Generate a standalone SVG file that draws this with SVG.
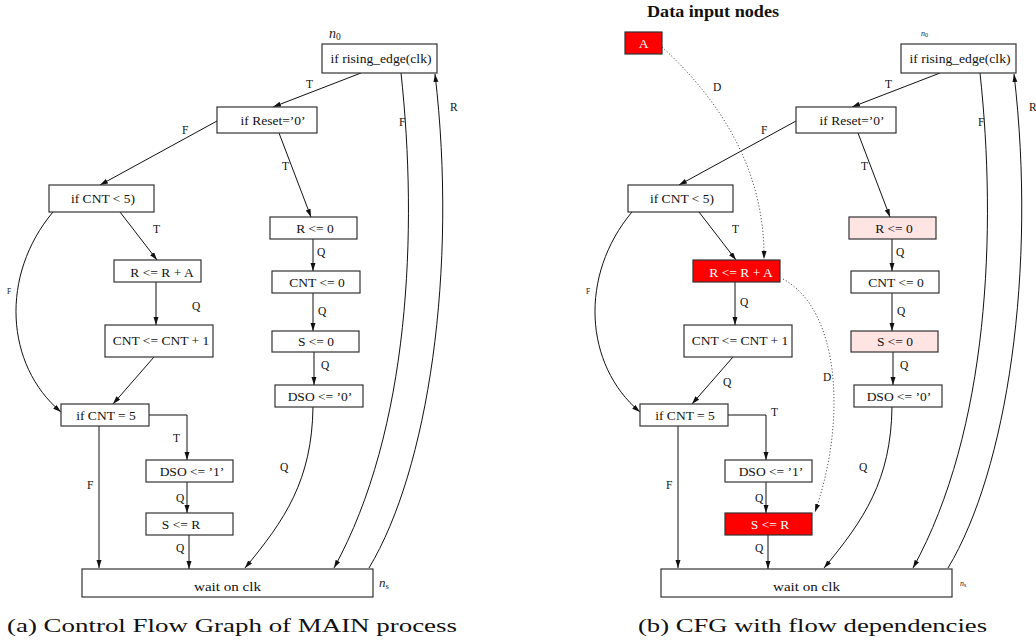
<svg xmlns="http://www.w3.org/2000/svg" width="1036" height="644" viewBox="0 0 1036 644">
  <style>
    .box { fill: #ffffff; stroke: #333333; stroke-width: 1.2; }
    .hot { fill: #ff0000; stroke: #333333; stroke-width: 1.2; }
    .warm { fill: #ffe4e4; stroke: #333333; stroke-width: 1.2; }
    .t { font-family: "Liberation Serif", "Times New Roman", serif; font-size: 13.5px; fill: #111111; text-anchor: middle; }
    .tw { font-family: "Liberation Serif", "Times New Roman", serif; font-size: 13.5px; fill: #ffffff; text-anchor: middle; }
    .lbl { font-family: "Liberation Serif", "Times New Roman", serif; font-size: 11.5px; fill: #111111; }
    .tiny { font-family: "Liberation Serif", "Times New Roman", serif; font-size: 7.5px; fill: #111111; }
    .math { font-family: "Liberation Serif", "Times New Roman", serif; font-style: italic; fill: #222222; }
    .cap { font-family: "Liberation Serif", "Times New Roman", serif; font-size: 19px; fill: #111111; }
    .head { font-family: "Liberation Serif", "Times New Roman", serif; font-size: 17px; font-weight: bold; fill: #111111; }
    .e { fill: none; stroke: #111111; stroke-width: 1; marker-end: url(#arr); }
    .d { fill: none; stroke: #555555; stroke-width: 1; stroke-dasharray: 1.2 2; marker-end: url(#arr); }
  </style>
  <defs>
    <marker id="arr" markerUnits="userSpaceOnUse" markerWidth="9" markerHeight="6" refX="8" refY="2.5" orient="auto">
      <path d="M0,0 L8,2.5 L0,5 z" fill="#111111"/>
    </marker>
  </defs>
  <rect width="1036" height="644" fill="#ffffff"/>

  <!-- (a) control flow graph -->
  <g id="panel-a">
    <g id="a-connectors">
      <path class="e" d="M361,73 L273,107"/>
      <path class="e" d="M217,121 L100,185"/>
      <path class="e" d="M279,133 L311,217"/>
      <path class="e" d="M401,73 C418,230 410,430 334,568"/>
      <path class="e" d="M369,568 C428,470 458,270 435,74"/>
      <path class="e" d="M120,212 L157,260"/>
      <path class="e" d="M53,212 C0,275 5,365 61,412"/>
      <path class="e" d="M156,282 L156,325"/>
      <path class="e" d="M154,357 L113,404"/>
      <path class="e" d="M313,239 L313,271"/>
      <path class="e" d="M313,293 L313,331"/>
      <path class="e" d="M314,352 L314,385"/>
      <path class="e" d="M313,407 C312,480 285,520 245,568"/>
      <path class="e" d="M149,415 L187,415 L187,460"/>
      <path class="e" d="M99,426 L99,568"/>
      <path class="e" d="M187,482 L187,513"/>
      <path class="e" d="M189,535 L189,569"/>
      <text class="lbl" x="306" y="88">T</text>
      <text class="lbl" x="182" y="134">F</text>
      <text class="lbl" x="282" y="170">T</text>
      <text class="lbl" x="399" y="126">F</text>
      <text class="lbl" x="450" y="111">R</text>
      <text class="lbl" x="153" y="233">T</text>
      <text class="tiny" x="7" y="294">F</text>
      <text class="lbl" x="192" y="310">Q</text>
      <text class="lbl" x="317" y="256">Q</text>
      <text class="lbl" x="318" y="315">Q</text>
      <text class="lbl" x="321" y="369">Q</text>
      <text class="lbl" x="280" y="471">Q</text>
      <text class="lbl" x="173" y="442">T</text>
      <text class="lbl" x="87" y="489">F</text>
      <text class="lbl" x="176" y="502">Q</text>
      <text class="lbl" x="176" y="552">Q</text>
    </g>
    <g id="a-n0">
      <rect class="box" x="322" y="44" width="115" height="29"/>
      <text class="t" x="381" y="63" textLength="101" lengthAdjust="spacingAndGlyphs">if rising_edge(clk)</text>
      <text class="math" x="329" y="38" font-size="14">n<tspan font-size="9.5" font-style="normal" dy="2">0</tspan></text>
    </g>
    <g id="a-reset">
      <rect class="box" x="217" y="107" width="100" height="26"/>
      <text class="t" x="273" y="125">if Reset=’0’</text>
    </g>
    <g id="a-cntlt5">
      <rect class="box" x="49" y="185" width="105" height="27"/>
      <text class="t" x="103" y="203">if CNT &lt; 5)</text>
    </g>
    <g id="a-r0">
      <rect class="box" x="270" y="217" width="87" height="22"/>
      <text class="t" x="315" y="233">R &lt;= 0</text>
    </g>
    <g id="a-cnt0">
      <rect class="box" x="272" y="271" width="88" height="22"/>
      <text class="t" x="317" y="287">CNT &lt;= 0</text>
    </g>
    <g id="a-s0">
      <rect class="box" x="272" y="331" width="87" height="21"/>
      <text class="t" x="316" y="346">S &lt;= 0</text>
    </g>
    <g id="a-dso0">
      <rect class="box" x="275" y="385" width="88" height="22"/>
      <text class="t" x="320" y="401">DSO &lt;= ’0’</text>
    </g>
    <g id="a-rra">
      <rect class="box" x="114" y="260" width="87" height="22"/>
      <text class="t" x="162" y="277">R &lt;= R + A</text>
    </g>
    <g id="a-cntinc">
      <rect class="box" x="105" y="325" width="108" height="32"/>
      <text class="t" x="161" y="345">CNT &lt;= CNT + 1</text>
    </g>
    <g id="a-cnteq5">
      <rect class="box" x="61" y="404" width="88" height="22"/>
      <text class="t" x="106" y="420">if CNT = 5</text>
    </g>
    <g id="a-dso1">
      <rect class="box" x="146" y="460" width="87" height="22"/>
      <text class="t" x="192" y="476">DSO &lt;= ’1’</text>
    </g>
    <g id="a-sr">
      <rect class="box" x="146" y="513" width="87" height="22"/>
      <text class="t" x="181" y="529">S &lt;= R</text>
    </g>
    <g id="a-wait">
      <rect class="box" x="82" y="569" width="291" height="28"/>
      <text class="t" x="227.5" y="591" textLength="67" lengthAdjust="spacingAndGlyphs">wait on clk</text>
      <text class="math" x="379" y="587" font-size="13">n<tspan font-size="8.5" font-style="normal" dy="2">s</tspan></text>
    </g>
    <text class="cap" x="7" y="632" textLength="450" lengthAdjust="spacingAndGlyphs">(a) Control Flow Graph of MAIN process</text>
  </g>

  <!-- (b) the same graph with data flow dependencies -->
  <g id="panel-b" transform="translate(579,0)">
    <text class="head" x="68" y="17" textLength="132" lengthAdjust="spacingAndGlyphs">Data input nodes</text>
    <g id="b-connectors">
      <path class="e" d="M361,73 L273,107"/>
      <path class="e" d="M217,121 L100,185"/>
      <path class="e" d="M279,133 L311,217"/>
      <path class="e" d="M401,73 C418,230 410,430 334,568"/>
      <path class="e" d="M369,568 C428,470 458,270 435,74"/>
      <path class="e" d="M120,212 L157,260"/>
      <path class="e" d="M53,212 C0,275 5,365 61,412"/>
      <path class="e" d="M156,282 L156,325"/>
      <path class="e" d="M154,357 L113,404"/>
      <path class="e" d="M313,239 L313,271"/>
      <path class="e" d="M313,293 L313,331"/>
      <path class="e" d="M314,352 L314,385"/>
      <path class="e" d="M313,407 C312,480 285,520 245,568"/>
      <path class="e" d="M149,415 L187,415 L187,460"/>
      <path class="e" d="M99,426 L99,568"/>
      <path class="e" d="M187,482 L187,513"/>
      <path class="e" d="M189,535 L189,569"/>
      <path class="d" d="M83,47 C141,100 186,170 185,259"/>
      <path class="d" d="M204,279 C261,310 268,420 236,512"/>
      <text class="lbl" x="306" y="88">T</text>
      <text class="lbl" x="182" y="134">F</text>
      <text class="lbl" x="282" y="170">T</text>
      <text class="lbl" x="399" y="126">F</text>
      <text class="lbl" x="450" y="111">R</text>
      <text class="lbl" x="153" y="233">T</text>
      <text class="tiny" x="7" y="294">F</text>
      <text class="lbl" x="161" y="306">Q</text>
      <text class="lbl" x="144" y="386">Q</text>
      <text class="lbl" x="317" y="256">Q</text>
      <text class="lbl" x="318" y="315">Q</text>
      <text class="lbl" x="321" y="369">Q</text>
      <text class="lbl" x="280" y="471">Q</text>
      <text class="lbl" x="192" y="416">T</text>
      <text class="lbl" x="87" y="489">F</text>
      <text class="lbl" x="176" y="502">Q</text>
      <text class="lbl" x="176" y="552">Q</text>
      <text class="lbl" x="134" y="91">D</text>
      <text class="lbl" x="244" y="381">D</text>
    </g>
    <g id="b-a">
      <rect class="hot" x="46" y="32" width="37" height="22"/>
      <text class="tw" x="64.5" y="48">A</text>
    </g>
    <g id="b-n0">
      <rect class="box" x="322" y="44" width="115" height="29"/>
      <text class="t" x="381" y="63" textLength="101" lengthAdjust="spacingAndGlyphs">if rising_edge(clk)</text>
      <text class="math" x="342" y="36" font-size="8">n<tspan font-size="6" font-style="normal" dy="1">0</tspan></text>
    </g>
    <g id="b-reset">
      <rect class="box" x="217" y="107" width="100" height="26"/>
      <text class="t" x="273" y="125">if Reset=’0’</text>
    </g>
    <g id="b-cntlt5">
      <rect class="box" x="49" y="185" width="105" height="27"/>
      <text class="t" x="103" y="203">if CNT &lt; 5)</text>
    </g>
    <g id="b-r0">
      <rect class="warm" x="270" y="217" width="87" height="22"/>
      <text class="t" x="315" y="233">R &lt;= 0</text>
    </g>
    <g id="b-cnt0">
      <rect class="box" x="272" y="271" width="88" height="22"/>
      <text class="t" x="317" y="287">CNT &lt;= 0</text>
    </g>
    <g id="b-s0">
      <rect class="warm" x="272" y="331" width="87" height="21"/>
      <text class="t" x="316" y="346">S &lt;= 0</text>
    </g>
    <g id="b-dso0">
      <rect class="box" x="275" y="385" width="88" height="22"/>
      <text class="t" x="320" y="401">DSO &lt;= ’0’</text>
    </g>
    <g id="b-rra">
      <rect class="hot" x="114" y="260" width="87" height="22"/>
      <text class="tw" x="162" y="277">R &lt;= R + A</text>
    </g>
    <g id="b-cntinc">
      <rect class="box" x="105" y="325" width="108" height="32"/>
      <text class="t" x="161" y="345">CNT &lt;= CNT + 1</text>
    </g>
    <g id="b-cnteq5">
      <rect class="box" x="61" y="404" width="88" height="22"/>
      <text class="t" x="106" y="420">if CNT = 5</text>
    </g>
    <g id="b-dso1">
      <rect class="box" x="146" y="460" width="87" height="22"/>
      <text class="t" x="192" y="476">DSO &lt;= ’1’</text>
    </g>
    <g id="b-sr">
      <rect class="hot" x="146" y="513" width="87" height="22"/>
      <text class="tw" x="191" y="529">S &lt;= R</text>
    </g>
    <g id="b-wait">
      <rect class="box" x="82" y="569" width="291" height="28"/>
      <text class="t" x="227.5" y="591" textLength="67" lengthAdjust="spacingAndGlyphs">wait on clk</text>
      <text class="math" x="381" y="586" font-size="8">n<tspan font-size="6" font-style="normal" dy="1">s</tspan></text>
    </g>
    <text class="cap" x="59" y="632" textLength="349" lengthAdjust="spacingAndGlyphs">(b) CFG with flow dependencies</text>
  </g>
</svg>
